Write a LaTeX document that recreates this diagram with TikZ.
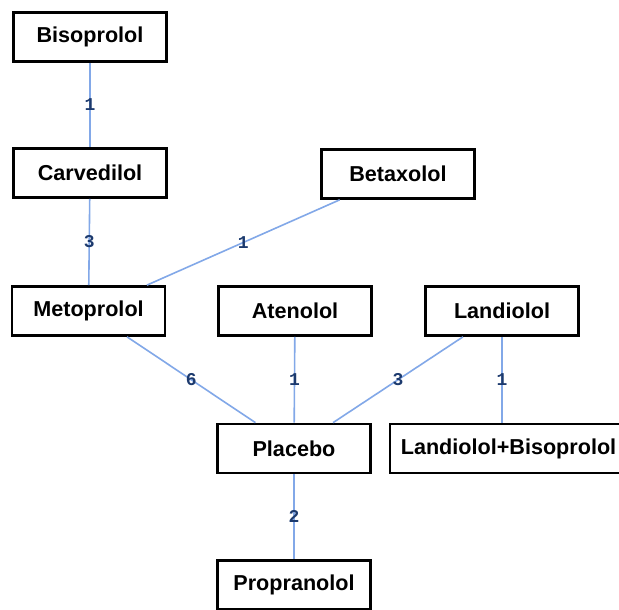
\documentclass[tikz,border=0pt]{standalone}
\usepackage{fontspec}
\setmainfont{Liberation Sans}
\newfontfamily\labelfont{Liberation Mono}
\definecolor{edgeblue}{RGB}{130,168,232}
\definecolor{labelnavy}{RGB}{28,58,110}
\begin{document}
\begin{tikzpicture}[x=1pt,y=-1pt,
  drug/.style={draw=black, line width=2.7pt, fill=white, minimum width=153pt, minimum height=49pt,
    inner sep=0pt, font=\fontsize{21.6}{24}\selectfont\bfseries},
  conn/.style={draw=edgeblue, line width=1.6pt},
  cnt/.style={midway, inner sep=0pt, text=labelnavy, font=\labelfont\fontsize{18}{20}\selectfont\bfseries}
]
\useasboundingbox (0,0) rectangle (619,610);
\fill[white] (0,0) rectangle (619,610);
\node[drug] (bis) at (90,37) {Bisoprolol};
\node[drug] (car) at (90,173) {Carvedilol};
\node[drug] (bet) at (398,174) {Betaxolol};
\node[drug] (met) at (88.5,311) {Metoprolol};
\node[drug] (ate) at (295,311) {Atenolol};
\node[drug] (lan) at (502,311) {Landiolol};
\node[drug] (pla) at (294,448.5) {Placebo};
\node[drug, minimum width=237pt] (lb) at (508.5,448.5) {Landiolol+Bisoprolol};
\node[drug] (pro) at (294,585) {Propranolol};
\coordinate (lbtop) at (lan |- lb.north);
\path[conn] (bis) -- node[cnt] {1} (car);
\path[conn] (car) -- node[cnt] {3} (met);
\path[conn] (bet) -- node[cnt] {1} (met);
\path[conn] (met) -- node[cnt] {6} (pla);
\path[conn] (ate) -- node[cnt] {1} (pla);
\path[conn] (lan) -- node[cnt] {3} (pla);
\path[conn] (lan) -- node[cnt] {1} (lbtop);
\path[conn] (pla) -- node[cnt] {2} (pro);
\end{tikzpicture}
\end{document}
